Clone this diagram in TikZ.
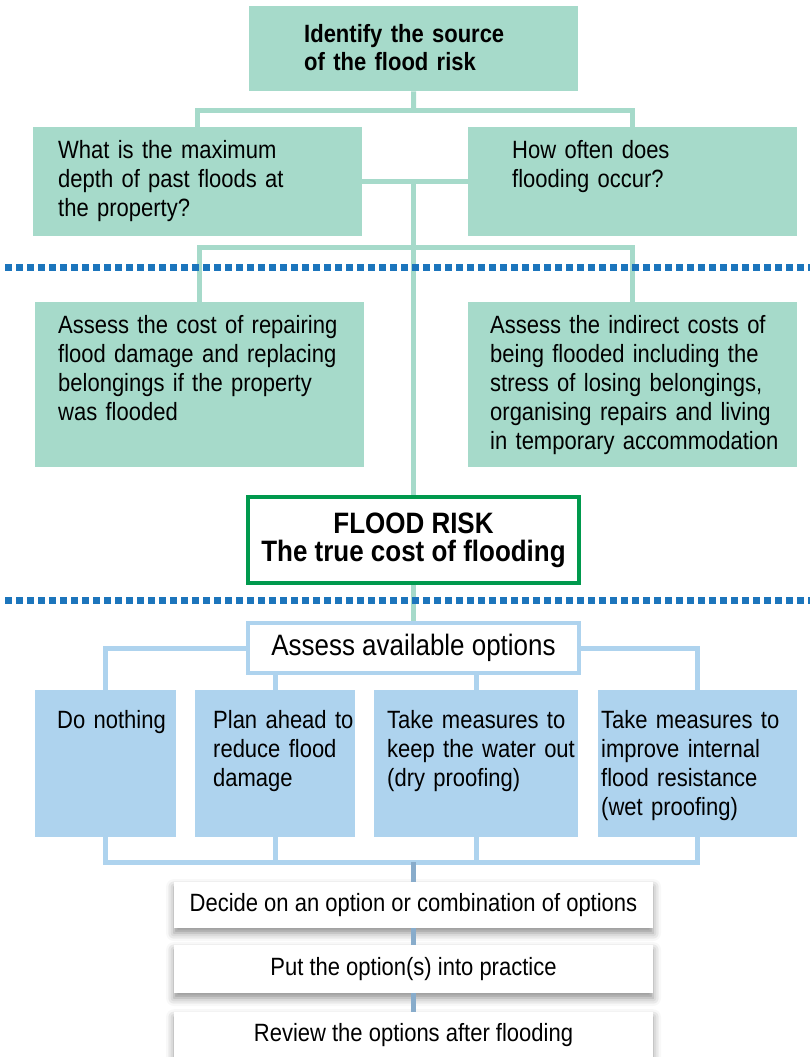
\documentclass[tikz,border=0pt]{standalone}
\usepackage{fontspec}
\setmainfont[FakeStretch=0.88]{Liberation Sans}
\usetikzlibrary{positioning,shadows.blur}
\definecolor{seafoam}{HTML}{A6DACA}
\definecolor{optblue}{HTML}{AED3EE}
\definecolor{dotblue}{HTML}{1C75BC}
\definecolor{riskgreen}{HTML}{00994D}
\definecolor{stageblue}{HTML}{88ACCB}
\newcommand{\bodyfont}{\fontsize{25}{29}\selectfont}
\newcommand{\topfont}{\fontsize{25}{28}\selectfont\bfseries}
\newcommand{\riskfont}{\fontsize{29.5}{28}\selectfont\bfseries}
\newcommand{\assessfont}{\fontsize{29.5}{30}\selectfont}

\begin{document}
\begin{tikzpicture}[x=1pt, y=-1pt,
    pad/.style={execute at begin node={\leftskip=#1}},
    qbox/.style={fill=seafoam, anchor=north west, inner sep=0pt, align=left, font=\bodyfont},
    obox/.style={fill=optblue, anchor=north west, inner sep=0pt, align=left, font=\bodyfont,
                 text height=38pt, text depth=109pt},
    riskbox/.style={draw=riskgreen, line width=3.5pt, fill=white, minimum width=331pt,
                    minimum height=86pt, align=center, font=\riskfont, inner sep=0pt},
    assessbox/.style={draw=optblue, line width=4pt, fill=white, minimum width=331pt,
                      minimum height=50pt, font=\assessfont, inner sep=0pt},
    stagebox/.style={fill=white, minimum width=479pt, font=\bodyfont, inner sep=0pt,
                     blur shadow={shadow xshift=0pt, shadow yshift=-5pt, shadow blur radius=8pt, shadow opacity=45}},
    tline/.style={draw=seafoam, line width=5pt},
    oline/.style={draw=optblue, line width=5pt},
    sline/.style={draw=stageblue, line width=5pt},
    divider/.style={draw=dotblue, line width=7pt, dash pattern=on 7pt off 4pt}]

    \useasboundingbox (0,0) rectangle (810,1057);

    % sources of risk
    \node[qbox, text width=329pt, text height=36pt, text depth=49pt, pad=55pt, font=\topfont] (source) at (249,6) {Identify the source\\of the flood risk};
    \node[qbox, text width=329pt, text height=31pt, text depth=78pt, pad=25pt] (depth) at (33,127) {What is the maximum\\depth of past floods at\\the property?};
    \node[qbox, text width=329pt, text height=31pt, text depth=78pt, pad=44pt] (often) at (468,127) {How often does\\flooding occur?};

    % costs
    \node[qbox, text width=329pt, text height=31pt, text depth=134pt, pad=23pt] (repair) at (35,302) {Assess the cost of repairing\\flood damage and replacing\\belongings if the property\\was flooded};
    \node[qbox, text width=329pt, text height=31pt, text depth=134pt, pad=22pt] (indirect) at (468,302) {Assess the indirect costs of\\being flooded including the\\stress of losing belongings,\\organising repairs and living\\in temporary accommodation};

    \node[riskbox] (risk) at (413.5,540) {FLOOD RISK\\The true cost of flooding};
    \node[assessbox] (assess) at (413.5,648) {Assess available options};

    % options
    \node[obox, text width=141pt, pad=22pt] (nothing) at (35,690) {Do nothing};
    \node[obox, text width=160pt, pad=18pt] (plan) at (195,690) {Plan ahead to\\reduce flood\\damage};
    \node[obox, text width=204pt, pad=13pt] (dry) at (374,690) {Take measures to\\keep the water out\\(dry proofing)};
    \node[obox, text width=199pt, pad=3pt] (wet) at (598,690) {Take measures to\\improve internal\\flood resistance\\(wet proofing)};

    % steps
    \node[stagebox, minimum height=46pt] (decide) at (413.5,905) {Decide on an option or combination of options};
    \node[stagebox, minimum height=48pt] (practice) at (413.5,969) {Put the option(s) into practice};
    \node[stagebox, minimum height=46pt, anchor=north] (review) at (413.5,1012) {Review the options after flooding};

    \coordinate (j1) at (413.5,110);
    \coordinate (j2) at (413.5,247);
    \coordinate (j3) at (413.5,862);

    \draw[tline] (source.south) -- (j1);
    \draw[tline] (depth.north) |- (j1) -| (often.north);
    \draw[tline] (depth.east) -- (often.west);
    \draw[tline] (depth.east -| j2) -- (j2);
    \draw[tline] (repair.north) |- (j2) -| (indirect.north);
    \draw[tline] (j2) -- (risk.north);
    \draw[tline] (risk.south) -- (assess.north);

    \draw[oline] (assess.west) -| (nothing.north);
    \draw[oline] (assess.east) -| (wet.north);
    \draw[oline] (assess.south -| plan.north) -- (plan.north);
    \draw[oline] (assess.south -| dry.north) -- (dry.north);
    \draw[oline] (nothing.south) |- (j3) -| (wet.south);
    \draw[oline] (plan.south) -- (plan.south |- j3);
    \draw[oline] (dry.south) -- (dry.south |- j3);

    \draw[sline] (j3) -- (decide.north);
    \draw[sline] (decide.south) -- (practice.north);
    \draw[sline] (practice.south) -- (review.north);

    \draw[divider] (5,267) -- (810,267);
    \draw[divider] (5,600) -- (810,600);

\end{tikzpicture}
\end{document}
